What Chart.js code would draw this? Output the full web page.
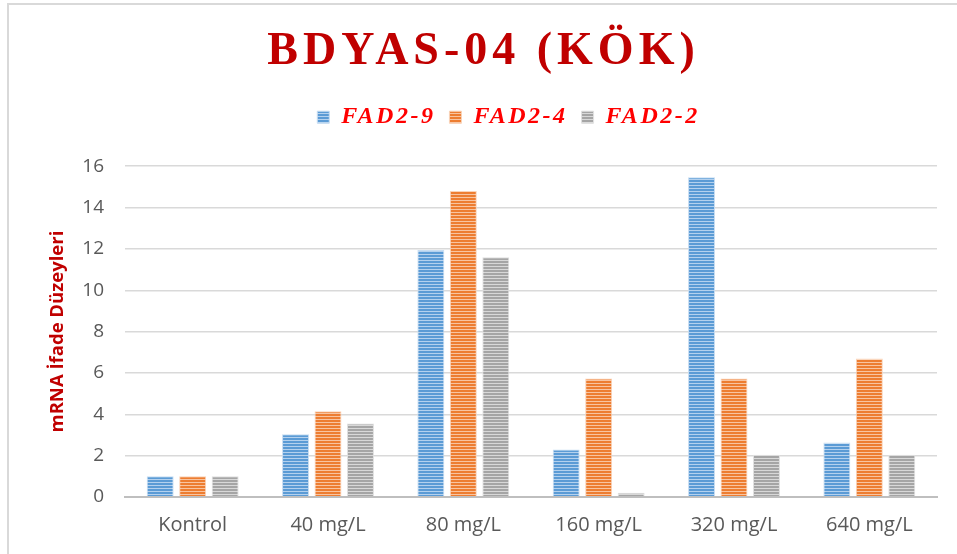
<!DOCTYPE html>
<html>
<head>
<meta charset="utf-8">
<script src="https://cdn.jsdelivr.net/npm/chart.js@4.4.0/dist/chart.umd.min.js"></script>
<style>
    html, body { margin: 0; padding: 0; background: #fff; }
    #frame {
        position: absolute; left: 7px; top: 3px; width: 960px; height: 560px;
        border-left: 2px solid #d9d9d9; border-top: 2px solid #d9d9d9;
    }
    #chart { position: absolute; left: 0; top: 0; }
</style>
</head>
<body>
<div id="frame"></div>
<canvas id="chart" width="957" height="554"></canvas>
<script>
var labels = ['Kontrol', '40 mg/L', '80 mg/L', '160 mg/L', '320 mg/L', '640 mg/L'];
var seriesNames = ['FAD2-9', 'FAD2-4', 'FAD2-2'];
var fad29 = [1, 3.04, 11.95, 2.3, 15.47, 2.64];
var fad24 = [1, 4.15, 14.8, 5.73, 5.73, 6.7];
var fad22 = [1, 3.55, 11.6, 0.2, 2.04, 2.04];
var yMax = 16;
var yStep = 2;

// horizontal stripe fill like the office pattern
function stripes(base, light) {
    var c = document.createElement('canvas');
    c.width = 4;
    c.height = 3;
    var x = c.getContext('2d');
    x.fillStyle = base;
    x.fillRect(0, 0, 4, 3);
    x.fillStyle = light;
    x.fillRect(0, 2, 4, 1);
    return x.createPattern(c, 'repeat');
}

var blue = stripes('#5B9BD5', '#B4D1EE');
var orange = stripes('#ED7D31', '#F8C4A0');
var gray = stripes('#A5A5A5', '#D8D8D8');

function ds(name, data, fill, edge) {
    return {
        label: name,
        data: data,
        backgroundColor: fill,
        borderColor: edge,
        borderWidth: 1,
        xAxisID: 'x',
        categoryPercentage: 0.72,
        barPercentage: 0.83
    };
}

var chart = new Chart(document.getElementById('chart'), {
    type: 'bar',
    data: {
        labels: labels,
        datasets: [
            ds(seriesNames[0], fad29, blue, '#C7DDF2'),
            ds(seriesNames[1], fad24, orange, '#F9D3B8'),
            ds(seriesNames[2], fad22, gray, '#E0E0E0')
        ]
    },
    options: {
        responsive: false,
        animation: false,
        layout: { padding: { left: 0, right: 20, top: 0, bottom: 0 } },
        plugins: {
            title: {
                display: true,
                text: 'BDYAS-04 (KÖK)',
                color: '#C00000',
                font: { family: 'Liberation Serif', size: 46, weight: 'bold', lineHeight: 1.2 },
                padding: { top: 25, bottom: 11 }
            },
            legend: {
                position: 'top',
                labels: {
                    boxWidth: 12,
                    boxHeight: 12,
                    padding: 14,
                    color: '#FF0000',
                    font: { family: 'Liberation Serif', size: 24, weight: 'bold', style: 'italic' }
                }
            },
            tooltip: { enabled: false }
        },
        scales: {
            x: {
                grid: { display: false, drawTicks: false },
                border: { display: true, color: '#BFBFBF', width: 2 },
                ticks: { color: '#595959', padding: 16, font: { family: 'Open Sans', size: 20 } },
                afterFit: function (s) { s.height = 57; }
            },
            xTop: {
                type: 'category',
                position: 'top',
                grid: { display: false, drawTicks: false },
                border: { display: false },
                ticks: { display: false },
                afterFit: function (s) { s.height = 27; }
            },
            y: {
                min: 0,
                max: yMax,
                ticks: { stepSize: yStep, color: '#595959', padding: 21, font: { family: 'Open Sans', size: 19 } },
                grid: {
                    drawTicks: false,
                    color: function (c) { return c.tick && c.tick.value === 0 ? '#BFBFBF' : '#D9D9D9'; },
                    lineWidth: function (c) { return c.tick && c.tick.value === 0 ? 2 : 1.5; }
                },
                border: { display: false },
                title: {
                    display: true,
                    text: 'mRNA İfade Düzeyleri',
                    color: '#C00000',
                    padding: { top: 47, bottom: 0 },
                    font: { family: 'Open Sans', size: 18.5, weight: 'bold', lineHeight: 1.2 }
                },
                afterFit: function (s) { s.width = 125; }
            }
        }
    }
});

// wider letter spacing on title and legend, and shift them a bit
var ctx = chart.ctx;
var tDraw = chart.titleBlock.draw;
chart.titleBlock.draw = function () {
    ctx.save();
    ctx.letterSpacing = '5px';
    ctx.translate(15, 0);
    tDraw.apply(this, arguments);
    ctx.restore();
};
var lFit = chart.legend.fit;
chart.legend.fit = function () {
    ctx.save();
    ctx.letterSpacing = '2.5px';
    lFit.apply(this, arguments);
    ctx.restore();
};
var lDraw = chart.legend.draw;
chart.legend.draw = function () {
    ctx.save();
    ctx.letterSpacing = '2.5px';
    ctx.translate(40, 0);
    lDraw.apply(this, arguments);
    ctx.restore();
};
chart.update();
</script>
</body>
</html>
